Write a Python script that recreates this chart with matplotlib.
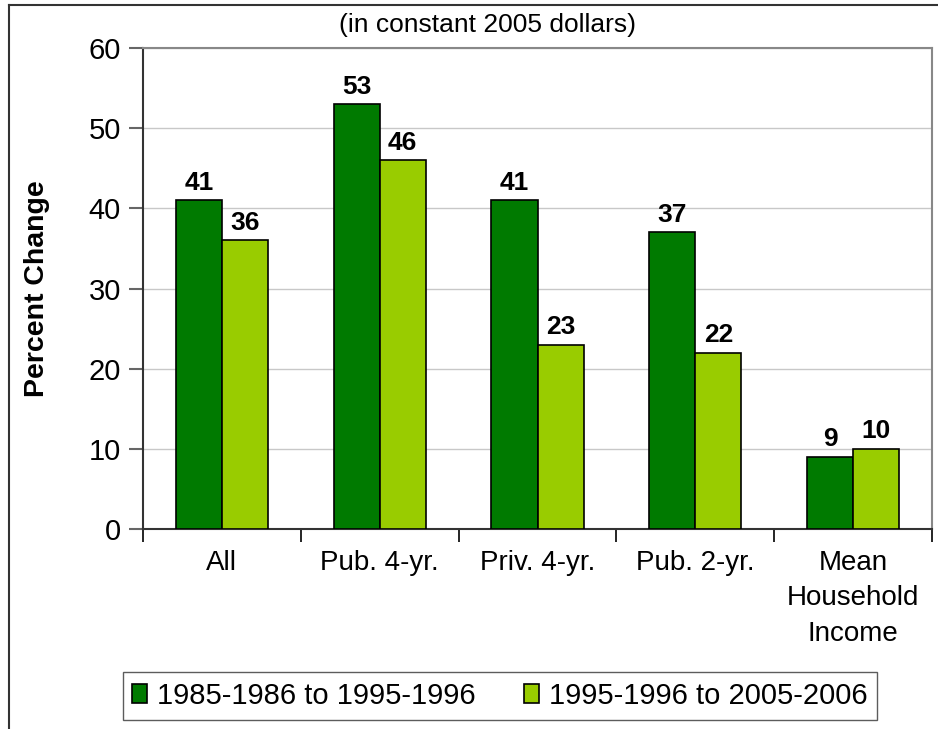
import numpy as np
import matplotlib
matplotlib.use("Agg")
import matplotlib.pyplot as plt

plt.rcParams['font.family'] = ['Liberation Sans', 'DejaVu Sans']

categories = ["All", "Pub. 4-yr.", "Priv. 4-yr.", "Pub. 2-yr.", "Mean\nHousehold\nIncome"]
series_names = ["1985-1986 to 1995-1996", "1995-1996 to 2005-2006"]
first_decade = [41, 53, 41, 37, 9]
second_decade = [36, 46, 23, 22, 10]
colors = ["#007A00", "#99CC00"]

W, H = 938, 729
fig = plt.figure(figsize=(W / 100, H / 100), dpi=100)

# outer frame (only top and left edges are visible in the crop)
fig.add_artist(plt.Line2D([9 / W, 9 / W], [0, 1 - 5 / H], transform=fig.transFigure, color="#333333", lw=1.5))
fig.add_artist(plt.Line2D([9 / W, 1], [1 - 5 / H, 1 - 5 / H], transform=fig.transFigure, color="#333333", lw=1.5))

left, right, top, bottom = 143, 932, 48, 529
ax = fig.add_axes([left / W, 1 - bottom / H, (right - left) / W, (bottom - top) / H])

x = np.arange(len(categories))
bw = 0.292
b1 = ax.bar(x - bw / 2, first_decade, bw, color=colors[0], edgecolor="black", lw=1.2, label=series_names[0], zorder=3)
b2 = ax.bar(x + bw / 2, second_decade, bw, color=colors[1], edgecolor="black", lw=1.2, label=series_names[1], zorder=3)

for bars, vals in ((b1, first_decade), (b2, second_decade)):
    for r, v in zip(bars, vals):
        ax.text(r.get_x() + r.get_width() / 2, v + 0.7, str(v), ha="center", va="bottom",
                fontsize=19, fontweight="bold")

ax.set_xlim(-0.5, len(categories) - 0.5)
ax.set_ylim(0, 60)
ax.set_yticks(range(0, 61, 10))
ax.yaxis.grid(True, color="#c8c8c8", lw=1, zorder=0)
ax.tick_params(axis="y", labelsize=21, length=10, width=1.5, color="#666666", pad=6)

ax.set_xticks(x)
ax.set_xticklabels(categories, fontsize=20, linespacing=1.47)
ax.tick_params(axis="x", which="major", length=0, pad=15)
ax.set_xticks(np.arange(-0.5, len(categories)), minor=True)
ax.tick_params(axis="x", which="minor", length=9, width=1.2, color="black")

ax.spines["left"].set_color("#333333")
ax.spines["left"].set_linewidth(1.5)
ax.spines["bottom"].set_color("#333333")
ax.spines["bottom"].set_linewidth(1.5)
ax.spines["top"].set_color("#888888")
ax.spines["top"].set_linewidth(1.5)
ax.spines["right"].set_color("#888888")
ax.spines["right"].set_linewidth(1.5)

ax.set_ylabel("Percent Change", fontsize=20.5, fontweight="bold")
ax.yaxis.set_label_coords((50 - left) / (right - left), 0.5)

fig.text(487 / W, 1 - 25 / H, "(in constant 2005 dollars)", ha="center", va="center", fontsize=19)

leg = fig.legend(handles=[b1, b2], loc="center", bbox_to_anchor=(500 / W, 1 - 696 / H), ncol=2,
                 fontsize=21, frameon=True, fancybox=False, edgecolor="#333333",
                 handlelength=0.52, handleheight=0.62, handletextpad=0.34, columnspacing=1.65,
                 borderpad=0.33, borderaxespad=0)
leg.get_frame().set_linewidth(1.0)

fig.savefig("out.png", dpi=100)
